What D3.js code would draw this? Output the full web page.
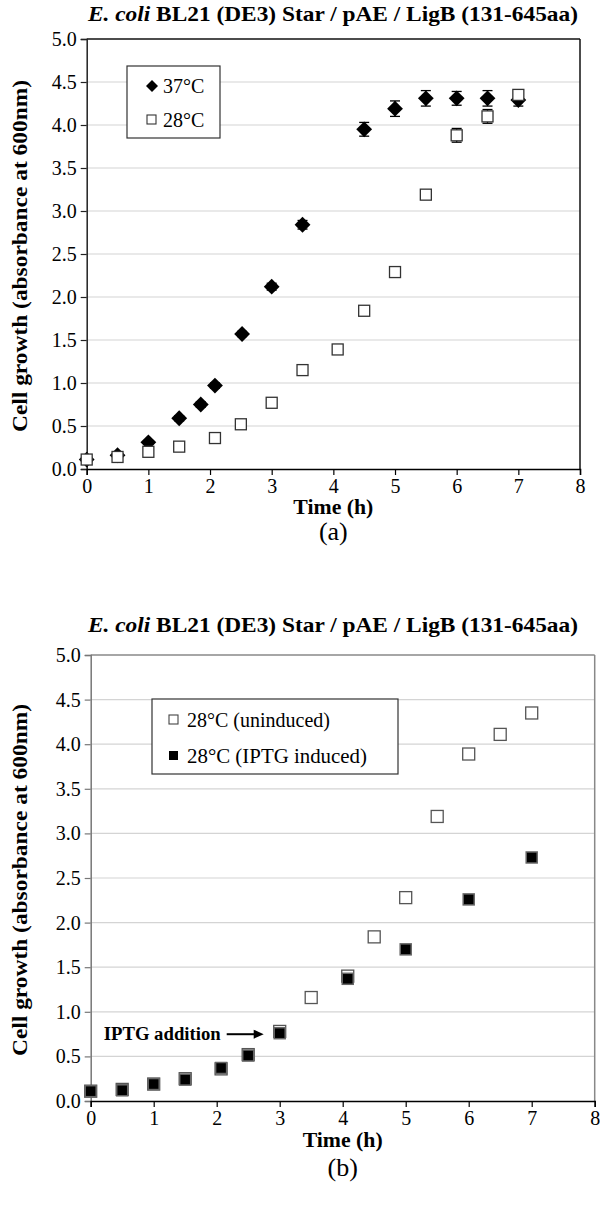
<!DOCTYPE html>
<html><head><meta charset="utf-8">
<script src="https://cdn.jsdelivr.net/npm/d3@7"></script>
<style>body{margin:0;background:#fff}svg{display:block}text{font-family:"Liberation Serif","Times New Roman",Times,serif;fill:#000}</style>
</head><body>
<script>
// ---------- data ----------
const titleItalic = "E. coli";
const titleRest = " BL21 (DE3) Star / pAE / LigB (131-645aa)";
const xTicks = [0,1,2,3,4,5,6,7,8];
const yTicks = [0,0.5,1,1.5,2,2.5,3,3.5,4,4.5,5];
const yLabel = "Cell growth (absorbance at 600nm)";
const xLabel = "Time (h)";

// panel (a)
const a37Time = [0,0.5,1,1.5,1.85,2.08,2.52,3,3.5,4.5,5,5.5,6,6.5,7];
const a37Val  = [0.11,0.16,0.31,0.59,0.75,0.97,1.57,2.12,2.84,3.95,4.19,4.31,4.31,4.31,4.29];
const a37Err  = [0.02,0.02,0.02,0.03,0.03,0.03,0.03,0.04,0.05,0.08,0.09,0.09,0.08,0.09,0.07];
const a28Time = [0,0.5,1,1.5,2.08,2.5,3,3.5,4.07,4.5,5,5.5,6,6.5,7];
const a28Val  = [0.11,0.14,0.20,0.26,0.36,0.52,0.77,1.15,1.39,1.84,2.29,3.19,3.88,4.10,4.35];
const a28Err  = [0.02,0.02,0.02,0.02,0.02,0.02,0.03,0.03,0.03,0.03,0.03,0.04,0.08,0.08,0.06];
const aLegend = ["37°C","28°C"];

// panel (b)
const bUnTime = [0,0.5,1,1.5,2.07,2.5,3,3.5,4.08,4.5,5,5.5,6,6.5,7];
const bUnVal  = [0.11,0.13,0.19,0.25,0.36,0.52,0.78,1.16,1.40,1.84,2.28,3.19,3.89,4.11,4.35];
const bInTime = [0,0.5,1,1.5,2.07,2.5,3,4.08,5,6,7];
const bInVal  = [0.11,0.12,0.19,0.24,0.37,0.51,0.76,1.37,1.70,2.26,2.73];
const bLegend = ["28°C (uninduced)","28°C (IPTG induced)"];
const annotation = "IPTG addition";

// ---------- drawing ----------
const W=600,H=1212;
const svg=d3.select("body").append("svg").attr("width",W).attr("height",H);
const SERIF='"Liberation Serif","Times New Roman",Times,serif';

function panel(o){
  const g=svg.append("g");
  const x=d3.scaleLinear().domain([0,8]).range([o.left,o.right]);
  const y=d3.scaleLinear().domain([0,5]).range([o.bottom,o.top]);
  // title
  const t=g.append("text").attr("x",333).attr("y",o.titleY)
    .attr("text-anchor","middle").attr("font-weight","bold").attr("font-size",21)
    .attr("textLength",490).attr("lengthAdjust","spacingAndGlyphs");
  t.append("tspan").attr("font-style","italic").text(titleItalic);
  t.append("tspan").text(titleRest);
  // grid
  g.append("g").selectAll("line").data(yTicks.filter(d=>d>0&&d<5)).join("line")
    .attr("x1",o.left).attr("x2",o.right).attr("y1",d=>y(d)).attr("y2",d=>y(d))
    .attr("stroke","#d4d4d4").attr("stroke-width",1.2);
  // border top/right
  g.append("line").attr("x1",o.left).attr("x2",o.right).attr("y1",o.top).attr("y2",o.top)
    .attr("stroke",o.frame).attr("stroke-width",1.5);
  g.append("line").attr("x1",o.right).attr("x2",o.right).attr("y1",o.top).attr("y2",o.bottom)
    .attr("stroke",o.frame).attr("stroke-width",1.5);
  // y axis
  const ya=g.append("g").attr("transform",`translate(${o.left},0)`)
    .call(d3.axisLeft(y).tickValues(yTicks).tickFormat(d3.format(".1f")).tickSize(6).tickPadding(4));
  ya.attr("font-family",SERIF);
  ya.select(".domain").attr("stroke",o.yAxisColor).attr("stroke-width",1.5);
  ya.selectAll(".tick line").attr("stroke",o.yAxisColor).attr("stroke-width",1.2);
  ya.selectAll("text").attr("font-size",20).attr("fill","#000");
  // x axis
  const xa=g.append("g").attr("transform",`translate(0,${o.bottom})`)
    .call(d3.axisBottom(x).tickValues(xTicks).tickFormat(d3.format("d")).tickSize(6).tickPadding(4));
  xa.attr("font-family",SERIF);
  xa.select(".domain").attr("stroke","#000").attr("stroke-width",1.5);
  xa.selectAll(".tick line").attr("stroke","#000").attr("stroke-width",1.2);
  xa.selectAll("text").attr("font-size",20).attr("fill","#000");
  // labels
  g.append("text").attr("x",(o.left+o.right)/2).attr("y",o.xLabelY).attr("text-anchor","middle")
    .attr("font-weight","bold").attr("font-size",20).attr("textLength",80).attr("lengthAdjust","spacingAndGlyphs").text(xLabel);
  g.append("text").attr("transform",`translate(${o.yLabelX},${o.yLabelC}) rotate(-90)`).attr("text-anchor","middle")
    .attr("font-weight","bold").attr("font-size",20).attr("textLength",352).attr("lengthAdjust","spacingAndGlyphs").text(yLabel);
  g.append("text").attr("x",(o.left+o.right)/2).attr("y",o.tagY).attr("text-anchor","middle")
    .attr("font-size",26).text(o.tag);
  return {g,x,y};
}

// ---- panel a
const A=panel({left:86.7,right:580,top:39,bottom:469,titleY:21,frame:"#111",yAxisColor:"#222",
  xLabelY:514,yLabelX:27,yLabelC:256,tagY:540,tag:"(a)"});
function errBars(P,ts,vs,es){
  const gg=P.g.append("g").attr("stroke","#000").attr("stroke-width",1.3);
  ts.forEach((t,i)=>{
    const cx=P.x(t), y1=P.y(vs[i]+es[i]), y2=P.y(vs[i]-es[i]);
    gg.append("line").attr("x1",cx).attr("x2",cx).attr("y1",y1).attr("y2",y2);
    gg.append("line").attr("x1",cx-5).attr("x2",cx+5).attr("y1",y1).attr("y2",y1);
    gg.append("line").attr("x1",cx-5).attr("x2",cx+5).attr("y1",y2).attr("y2",y2);
  });
}
errBars(A,a37Time,a37Val,a37Err);
errBars(A,a28Time,a28Val,a28Err);
A.g.append("g").selectAll("path").data(a37Time).join("path")
  .attr("d",d3.symbol().type(d3.symbolSquare).size(125)())
  .attr("transform",(d,i)=>`translate(${A.x(d)},${A.y(a37Val[i])}) rotate(45)`)
  .attr("fill","#000");
A.g.append("g").selectAll("rect").data(a28Time).join("rect")
  .attr("x",d=>A.x(d)-5.5).attr("y",(d,i)=>A.y(a28Val[i])-5.5).attr("width",11).attr("height",11)
  .attr("fill","#fff").attr("stroke","#333").attr("stroke-width",1.3);
// legend a
{
  const lg=A.g.append("g");
  lg.append("rect").attr("x",127).attr("y",66).attr("width",93).attr("height",72)
    .attr("fill","#fff").attr("stroke","#333").attr("stroke-width",1.2);
  lg.append("path").attr("d",d3.symbol().type(d3.symbolSquare).size(72)())
    .attr("transform","translate(152,86) rotate(45)").attr("fill","#000");
  lg.append("rect").attr("x",147).attr("y",115).attr("width",9).attr("height",9)
    .attr("fill","#fff").attr("stroke","#333").attr("stroke-width",1.1);
  lg.append("text").attr("x",163).attr("y",93).attr("font-size",20).text(aLegend[0]);
  lg.append("text").attr("x",163).attr("y",127).attr("font-size",20).text(aLegend[1]);
}

// ---- panel b
const B=panel({left:90.7,right:594.7,top:655,bottom:1101,titleY:632,frame:"#888",yAxisColor:"#777",
  xLabelY:1147,yLabelX:27,yLabelC:880,tagY:1176,tag:"(b)"});
B.g.append("g").selectAll("rect").data(bUnTime).join("rect")
  .attr("x",d=>B.x(d)-6).attr("y",(d,i)=>B.y(bUnVal[i])-6).attr("width",12).attr("height",12)
  .attr("fill","#fff").attr("stroke","#555").attr("stroke-width",1.3);
B.g.append("g").selectAll("rect").data(bInTime).join("rect")
  .attr("x",d=>B.x(d)-5.5).attr("y",(d,i)=>B.y(bInVal[i])-5.5).attr("width",11).attr("height",11)
  .attr("fill","#000").attr("stroke","#666").attr("stroke-width",1.5);
// legend b
{
  const lg=B.g.append("g");
  lg.append("rect").attr("x",152).attr("y",699).attr("width",246).attr("height",75)
    .attr("fill","#fff").attr("stroke","#333").attr("stroke-width",1.2);
  lg.append("rect").attr("x",169).attr("y",715).attr("width",9).attr("height",9)
    .attr("fill","#fff").attr("stroke","#444").attr("stroke-width",1.1);
  lg.append("rect").attr("x",169).attr("y",751).attr("width",9).attr("height",9).attr("fill","#000");
  lg.append("text").attr("x",187).attr("y",727).attr("font-size",20).text(bLegend[0]);
  lg.append("text").attr("x",187).attr("y",763).attr("font-size",20).attr("textLength",180).attr("lengthAdjust","spacingAndGlyphs").text(bLegend[1]);
}
// annotation
{
  const ay=B.y(bInVal[6])+1, ax=B.x(3)-16;
  B.g.append("text").attr("x",ax-43).attr("y",ay+6).attr("text-anchor","end")
    .attr("font-weight","bold").attr("font-size",18).attr("textLength",117).attr("lengthAdjust","spacingAndGlyphs").text(annotation);
  B.g.append("line").attr("x1",ax-37).attr("x2",ax-8).attr("y1",ay).attr("y2",ay).attr("stroke","#000").attr("stroke-width",2);
  B.g.append("path").attr("d",`M${ax},${ay} L${ax-10},${ay-4.5} L${ax-10},${ay+4.5} Z`).attr("fill","#000");
}
</script>
</body></html>
